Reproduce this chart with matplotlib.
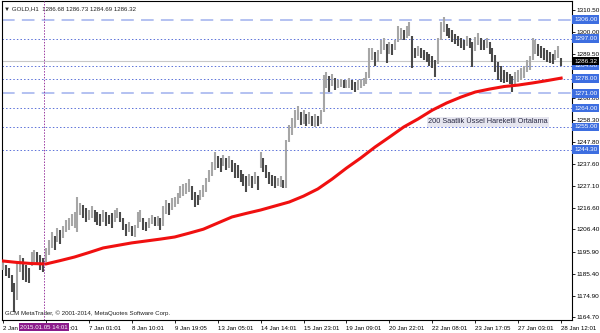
import numpy as np
import matplotlib.pyplot as plt

plt.rcParams['font.family'] = ['Liberation Sans', 'DejaVu Sans']

# hourly bars, high / low
highs = [1190.8, 1189.5, 1188.0, 1184.8, 1180.9, 1190.9, 1194.2, 1192.8, 1189.5, 1188.1, 1195.7, 1196.6, 1195.7, 1194.2, 1192.8,
         1197.6, 1201.4, 1205.2, 1203.3, 1207.1, 1206.1, 1208.0, 1210.9, 1211.8, 1213.7, 1214.7, 1221.8, 1218.9, 1218.0, 1216.5,
         1215.6, 1217.5, 1215.6, 1214.7, 1213.7, 1215.6, 1214.7, 1213.2, 1214.2, 1215.6, 1216.5, 1214.7, 1211.8, 1209.0, 1209.9,
         1208.0, 1208.5, 1214.7, 1215.6, 1211.8, 1209.9, 1211.8, 1213.2, 1212.3, 1212.8, 1211.8, 1217.5, 1220.3, 1219.0, 1221.3,
         1221.8, 1223.9, 1226.9, 1227.9, 1228.4, 1230.3, 1226.9, 1224.1, 1222.7, 1225.1, 1227.5, 1230.8, 1234.6, 1238.4, 1243.1,
         1241.2, 1240.3, 1241.7, 1240.3, 1241.2, 1239.3, 1237.9, 1236.9, 1234.6, 1232.7, 1231.7, 1232.7, 1231.7, 1233.6, 1231.7,
         1243.1, 1240.3, 1236.9, 1233.6, 1232.2, 1231.7, 1230.8, 1231.7, 1229.8, 1248.8, 1256.0, 1259.3, 1263.0, 1265.0, 1262.1,
         1263.0, 1261.2, 1262.1, 1260.2, 1261.2, 1260.2, 1263.0, 1279.7, 1281.1, 1279.2, 1280.1, 1278.2, 1277.3, 1277.7, 1277.3,
         1277.3, 1278.2, 1277.3, 1276.3, 1277.3, 1277.7, 1278.2, 1281.1, 1292.5, 1292.5, 1290.6, 1291.5, 1296.3, 1297.2, 1294.4,
         1295.3, 1294.4, 1296.3, 1302.9, 1302.0, 1301.0, 1302.9, 1304.8, 1298.2, 1292.5, 1293.4, 1292.5, 1291.5, 1290.6, 1289.6,
         1288.7, 1286.8, 1297.2, 1304.8, 1307.2, 1303.9, 1302.0, 1301.0, 1299.1, 1298.2, 1297.2, 1296.3, 1298.2, 1297.2, 1295.3,
         1297.7, 1299.6, 1297.2, 1296.3, 1297.2, 1295.3, 1292.5, 1289.1, 1285.8, 1283.9, 1282.0, 1281.1, 1280.1, 1279.2, 1281.1,
         1282.0, 1283.0, 1283.9, 1286.8, 1288.7, 1297.2, 1296.3, 1294.4, 1293.4, 1292.5, 1291.5, 1290.6, 1289.6, 1291.5, 1293.4, 1287.7]
lows = [1187.1, 1184.3, 1183.3, 1176.7, 1167.2, 1172.9, 1186.2, 1182.4, 1181.4, 1181.0, 1189.0, 1190.9, 1189.5, 1187.1, 1186.2,
        1190.9, 1194.2, 1197.6, 1196.6, 1200.4, 1199.5, 1202.3, 1205.2, 1206.1, 1208.0, 1207.1, 1205.2, 1213.2, 1211.8, 1209.9,
        1210.9, 1211.8, 1209.9, 1208.5, 1208.0, 1209.9, 1208.0, 1209.0, 1207.1, 1209.9, 1211.8, 1209.9, 1206.1, 1203.3, 1205.2,
        1203.3, 1202.8, 1207.1, 1209.9, 1206.1, 1205.6, 1207.1, 1209.0, 1208.0, 1208.0, 1206.1, 1208.0, 1213.7, 1213.2, 1215.6,
        1217.0, 1218.4, 1221.3, 1222.2, 1223.2, 1224.1, 1220.3, 1217.0, 1218.0, 1220.3, 1221.8, 1224.1, 1228.9, 1231.7, 1234.6,
        1235.5, 1233.6, 1236.5, 1234.6, 1235.5, 1233.6, 1230.8, 1230.8, 1228.9, 1227.0, 1224.1, 1227.0, 1226.0, 1228.0, 1225.1,
        1235.5, 1233.6, 1230.8, 1228.0, 1227.0, 1226.0, 1227.0, 1226.5, 1226.0, 1226.0, 1247.9, 1251.2, 1254.5, 1258.3, 1256.0,
        1256.4, 1255.5, 1256.4, 1255.5, 1255.0, 1255.5, 1256.4, 1262.1, 1273.5, 1271.6, 1274.4, 1272.5, 1273.5, 1274.0, 1273.5,
        1273.5, 1273.5, 1272.5, 1271.6, 1272.5, 1273.5, 1274.4, 1275.4, 1278.2, 1286.8, 1283.9, 1285.8, 1289.6, 1291.5, 1285.4,
        1289.6, 1289.1, 1291.5, 1295.3, 1296.3, 1296.3, 1297.2, 1298.2, 1283.0, 1287.7, 1288.7, 1287.7, 1286.8, 1285.8, 1283.9,
        1283.0, 1278.7, 1284.9, 1296.3, 1300.1, 1298.2, 1297.2, 1295.3, 1294.4, 1293.4, 1292.5, 1291.5, 1293.4, 1292.5, 1283.4,
        1291.1, 1293.9, 1291.5, 1291.5, 1292.5, 1289.6, 1285.8, 1281.1, 1277.3, 1276.3, 1275.9, 1276.3, 1275.4, 1271.6, 1275.4,
        1276.3, 1277.3, 1278.2, 1281.1, 1282.0, 1286.8, 1289.6, 1288.7, 1287.7, 1286.8, 1285.8, 1285.4, 1284.9, 1286.8, 1287.7, 1283.9]

# 200 EMA, read every 5 bars
ema_idx = list(range(0, 196, 5))
ema = [1191.4, 1190.7, 1190.2, 1190.0, 1191.6, 1193.3, 1195.4, 1197.6, 1198.8, 1200.0,
       1200.9, 1201.8, 1202.8, 1204.6, 1206.5, 1209.4, 1212.3, 1214.0, 1215.6, 1217.5,
       1219.4, 1222.2, 1225.6, 1230.3, 1235.5, 1240.3, 1245.5, 1250.2, 1255.0, 1258.8,
       1263.0, 1266.4, 1269.2, 1271.6, 1273.0, 1274.2, 1274.9, 1275.9, 1277.0, 1278.2]

dotted_levels = [1297.00, 1284.00, 1278.00, 1264.00, 1255.00, 1244.30]
dashed_levels = [1306.00, 1271.00]
last_price = 1286.32

y_ticks = [1310.50, 1300.00, 1289.50, 1279.00, 1268.80, 1258.30, 1247.80, 1237.60,
           1227.10, 1216.60, 1206.40, 1195.90, 1185.40, 1174.90, 1164.70]
x_ticks = list(range(0, 196, 15))
x_labels = ['2 Jan', '5 Jan 15:01', '7 Jan 01:01', '8 Jan 10:01', '9 Jan 19:05', '13 Jan 05:01',
            '14 Jan 14:01', '15 Jan 23:01', '19 Jan 09:01', '20 Jan 22:01', '22 Jan 08:01',
            '23 Jan 17:05', '27 Jan 03:01', '28 Jan 12:01']

fig = plt.figure(figsize=(6, 3.33), dpi=100)
ax = fig.add_axes([2/600, 13/333, 570/600, 319/333])

h = np.array(highs)
l = np.array(lows)
x = np.arange(len(h))
mid = (h + l) / 2
up = np.r_[True, mid[1:] >= mid[:-1]]
ax.vlines(x[up], l[up], h[up], color='#a6a6a6', lw=1.5, zorder=3)
ax.vlines(x[~up], l[~up], h[~up], color='#4a4a4a', lw=1.5, zorder=3)

ax.plot(ema_idx, ema, color='#f01010', lw=2.2, zorder=4)

for lv in dotted_levels:
    ax.axhline(lv, color='#5a70d8', lw=0.7, ls=(0, (1.5, 2.2)), zorder=1)
for lv in dashed_levels:
    ax.axhline(lv, color='#aebcf0', lw=1.3, ls=(0, (7, 4)), zorder=1)
ax.axhline(last_price, color='#c8c8c8', lw=0.8, zorder=1)

# crosshair
ax.axvline(14.3, color='#9a3aa0', lw=0.7, ls=(0, (1.5, 1.5)), zorder=5)

ax.set_xlim(-0.35, 198.8)
ax.set_ylim(1163.4, 1314.8)

ax.yaxis.tick_right()
ax.set_yticks(y_ticks)
ax.set_yticklabels([f'{v:.2f}' for v in y_ticks], fontsize=4.6)
ax.tick_params(axis='y', length=2, width=0.6, pad=1.5)
ax.set_xticks(x_ticks)
ax.set_xticklabels(x_labels, fontsize=4.4, ha='left')
ax.tick_params(axis='x', length=2.5, width=0.6, pad=1.5)
for s in ax.spines.values():
    s.set_linewidth(0.8)

ytr = ax.get_yaxis_transform()
for lv in dotted_levels + dashed_levels:
    ax.text(1.0035, lv, f'{lv:.2f}', transform=ytr, fontsize=4.6, color='white',
            va='center', ha='left', clip_on=False, zorder=10,
            bbox=dict(boxstyle='square,pad=0.3', fc='#3d6ee0', ec='none'))
ax.text(1.0035, last_price, f'{last_price:.2f}', transform=ytr, fontsize=4.6, color='white',
        va='center', ha='left', clip_on=False, zorder=10,
        bbox=dict(boxstyle='square,pad=0.3', fc='black', ec='none'))

xtr = ax.get_xaxis_transform()
ax.text(14.3, -0.022, '2015.01.05 14:01', transform=xtr, fontsize=4.4, color='white',
        ha='center', va='center', clip_on=False, zorder=10,
        bbox=dict(boxstyle='square,pad=0.25', fc='#8a1a8a', ec='none'))

ax.text(0.004, 0.985, '\u25bc GOLD,H1  1286.68 1286.73 1284.69 1286.32', transform=ax.transAxes,
        fontsize=4.4, va='top', ha='left', color='#202020')
ax.text(0.006, 0.012, 'GCM MetaTrader, \u00a9 2001-2014, MetaQuotes Software Corp.',
        transform=ax.transAxes, fontsize=4.4, va='bottom', ha='left', color='#202020')
ax.text(148.5, 1257.4, '200 Saatlik \u00dcssel Hareketli Ortalama', fontsize=5.3,
        va='center', ha='left', color='#2a2a44', zorder=6,
        bbox=dict(boxstyle='square,pad=0.2', fc='#e6e6f0', ec='none'))

fig.savefig('out.png', dpi=100)
